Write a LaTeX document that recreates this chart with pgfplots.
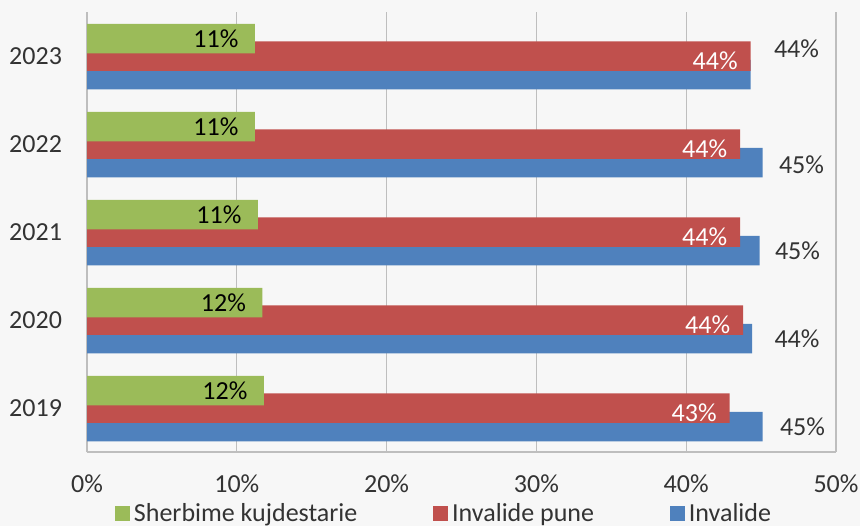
\documentclass[border=0pt]{standalone}
\usepackage{fontspec}
\setmainfont{Carlito}
\usepackage{pgfplots}
\usepackage{pgfplotstable}
\pgfplotsset{compat=1.18}
\definecolor{cgreen}{HTML}{9BBB59}
\definecolor{cred}{HTML}{C0504D}
\definecolor{cblue}{HTML}{4F81BD}
\definecolor{bg}{HTML}{F7F7F7}
\definecolor{gridc}{HTML}{BEBEBE}
\definecolor{txt}{HTML}{333333}

\pgfplotstableread{
y x
0 11.8
1 11.7
2 11.4
3 11.2
4 11.2
}\greentab
\pgfplotstableread{
y x
0 42.9
1 43.8
2 43.6
3 43.6
4 44.3
}\redtab
\pgfplotstableread{
y x dx dy
0 45.1 8.5 0
1 44.4 11 0
2 44.9 7.5 0
3 45.1 8 -1
4 44.3 11.5 13
}\bluetab

\begin{document}
\fontsize{13}{15.6}\selectfont
\begin{tikzpicture}
\path[use as bounding box, fill=bg] (0,0) rectangle (430pt,263pt);
\begin{axis}[
  at={(43.5pt,37pt)}, anchor=south west,
  scale only axis, width=374.5pt, height=220pt,
  xmin=0, xmax=50, ymin=-0.5, ymax=4.5,
  xbar, bar width=14.75pt,
  axis x line*=bottom, axis y line*=left,
  xtick={0,10,...,50}, xticklabel={\pgfmathprintnumber{\tick}\%},
  ytick={0,...,4}, yticklabels={2019,2020,2021,2022,2023},
  xmajorgrids, grid style={gridc, line width=0.6pt},
  axis line style={gridc, line width=0.6pt, -},
  major tick length=0pt,
  tick label style={font=\fontsize{13}{15.6}\selectfont, text=txt},
  xticklabel style={yshift=-9pt, inner sep=2pt},
  yticklabel style={xshift=-8pt},
  /pgf/number format/assume math mode=true,
  legend columns=3,
  legend cell align=left,
  legend style={at={(axis description cs:0.037,-0.142)}, anchor=west,
    draw=none, fill=none, inner sep=0pt,
    font=\fontsize{13}{15.6}\selectfont, text=txt,
    /tikz/every even column/.append style={column sep=36pt}},
]
\addlegendimage{legend image code/.code={\fill[cgreen] (0pt,-3pt) rectangle (7pt,4pt);}}
\addlegendentry{Sherbime kujdestarie}
\addlegendimage{legend image code/.code={\fill[cred] (0pt,-3pt) rectangle (7pt,4pt);}}
\addlegendentry{Invalide pune}
\addlegendimage{legend image code/.code={\fill[cblue] (0pt,-3pt) rectangle (7pt,4pt);}}
\addlegendentry{Invalide}

\addplot[forget plot, xbar, fill=cblue, draw=none, bar shift=-9.25pt,
  point meta=x,
  visualization depends on={\thisrow{dx} \as \mydx},
  visualization depends on={\thisrow{dy} \as \mydy},
  nodes near coords={\pgfmathprintnumber[fixed,precision=0]{\pgfplotspointmeta}\%},
  nodes near coords style={anchor=west, inner sep=0pt, xshift=\mydx pt, yshift=\mydy pt, text=txt}]
  table[x=x,y=y]{\bluetab};
\addplot[forget plot, xbar, fill=cred, draw=none, bar shift=0pt,
  point meta=x,
  nodes near coords={\pgfmathprintnumber[fixed,precision=0]{\pgfplotspointmeta}\%},
  nodes near coords style={anchor=east, inner sep=0pt, xshift=-6.3pt, yshift=-2.2pt, text=white}]
  table[x=x,y=y]{\redtab};
\addplot[forget plot, xbar, fill=cgreen, draw=none, bar shift=8.75pt,
  point meta=x,
  nodes near coords={\pgfmathprintnumber[fixed,precision=0]{\pgfplotspointmeta}\%},
  nodes near coords style={anchor=east, inner sep=0pt, xshift=-8pt, text=black}]
  table[x=x,y=y]{\greentab};
\end{axis}
\end{tikzpicture}
\end{document}
